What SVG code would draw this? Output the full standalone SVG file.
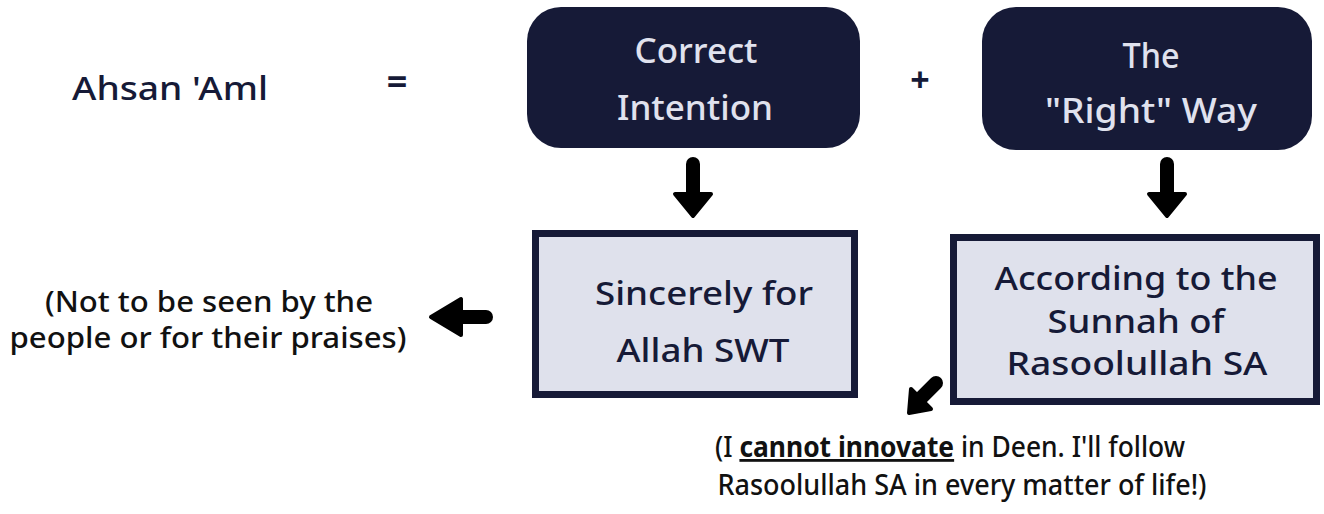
<svg xmlns="http://www.w3.org/2000/svg" width="1324" height="514" viewBox="0 0 1324 514">
<style>
.t{font-family:"Noto Sans","Open Sans",sans-serif;text-anchor:middle;font-weight:500}
.lt{fill:#e0e2ee;font-size:34px}
.dk{fill:#161a37;font-size:32px}
.bk{fill:#111111;font-size:28px}
.dark{fill:#161a37}
.light{fill:#dfe1ec;stroke:#161a37;stroke-width:7}
.arr{fill:#000;stroke:#000;stroke-width:4;stroke-linejoin:round;stroke-linecap:round}
.shaft{stroke:#000;stroke-width:14;stroke-linecap:round;fill:none}
</style>
<rect width="1324" height="514" fill="#ffffff"/>
<g id="label-ahsan">
<text class="t" x="170" y="100" style="fill:#161a37;font-size:33px" textLength="196" lengthAdjust="spacingAndGlyphs">Ahsan 'Aml</text>
</g>
<g id="equals">
<text class="t" x="397" y="94" style="fill:#161a37;font-size:36px;font-weight:bold">=</text>
</g>
<g id="plus">
<text class="t" x="920" y="92" style="fill:#161a37;font-size:34px;font-weight:bold">+</text>
</g>
<g id="correct-intention">
<rect class="dark" x="527" y="7" width="333" height="141" rx="34"/>
<text class="t lt" x="696" y="63" textLength="123" lengthAdjust="spacingAndGlyphs">Correct</text>
<text class="t lt" x="695" y="120" textLength="156" lengthAdjust="spacingAndGlyphs">Intention</text>
</g>
<g id="right-way">
<rect class="dark" x="982" y="7" width="330" height="143" rx="34"/>
<text class="t lt" x="1151" y="68" textLength="57" lengthAdjust="spacingAndGlyphs">The</text>
<text class="t lt" x="1151" y="123" textLength="212" lengthAdjust="spacingAndGlyphs">"Right" Way</text>
</g>
<g id="sincerely">
<rect class="light" x="535.5" y="233.5" width="319" height="161"/>
<text class="t dk" x="704" y="305" textLength="218" lengthAdjust="spacingAndGlyphs">Sincerely for</text>
<text class="t dk" x="703" y="362" textLength="173" lengthAdjust="spacingAndGlyphs">Allah SWT</text>
</g>
<g id="sunnah">
<rect class="light" x="953.5" y="237.5" width="363" height="164"/>
<text class="t dk" x="1136" y="290" textLength="283" lengthAdjust="spacingAndGlyphs">According to the</text>
<text class="t dk" x="1136" y="333" textLength="177" lengthAdjust="spacingAndGlyphs">Sunnah of</text>
<text class="t dk" x="1137" y="375" textLength="261" lengthAdjust="spacingAndGlyphs">Rasoolullah SA</text>
</g>
<g id="note-left">
<text class="t bk" x="209" y="312" textLength="328" lengthAdjust="spacingAndGlyphs">(Not to be seen by the</text>
<text class="t bk" x="208" y="348" textLength="397" lengthAdjust="spacingAndGlyphs">people or for their praises)</text>
</g>
<g id="note-bottom">
<text class="t bk" x="950" y="457" textLength="470" lengthAdjust="spacingAndGlyphs">(I <tspan font-weight="bold" text-decoration="underline">cannot innovate</tspan> in Deen. I'll follow</text>
<text class="t bk" x="962" y="495" textLength="489" lengthAdjust="spacingAndGlyphs">Rasoolullah SA in every matter of life!)</text>
</g>
<g id="connectors">
<line class="shaft" x1="693" y1="164" x2="693" y2="196"/>
<polygon class="arr" points="675,194 711,194 693,216"/>
<line class="shaft" x1="1167" y1="164" x2="1167" y2="196"/>
<polygon class="arr" points="1149,194 1185,194 1167,216"/>
<line class="shaft" x1="486" y1="317" x2="458" y2="317"/>
<polygon class="arr" points="461,299 461,335 431,317"/>
<line class="shaft" x1="936" y1="383" x2="922" y2="397"/>
<polygon class="arr" points="911,389 931,409 909,413"/>
</g>
</svg>
